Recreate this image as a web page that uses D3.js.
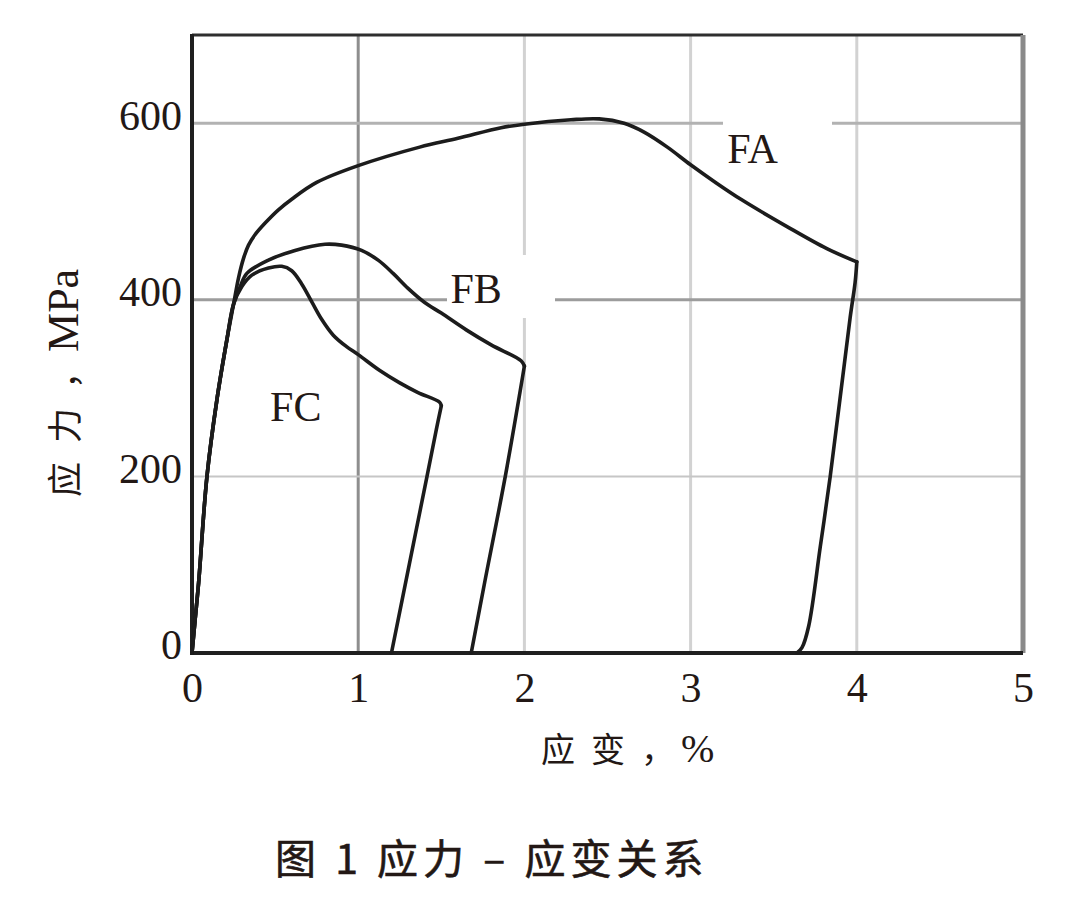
<!DOCTYPE html>
<html>
<head>
  <meta charset="utf-8">
  <title>应力-应变关系</title>
  <style>
    body { margin: 0; background: #fff; }
    svg { display: block; }
  </style>
</head>
<body>
  <script src="https://d3js.org/d3.v7.min.js" charset="utf-8"></script>
  <script>
  'use strict'

  const w = 1080
  const h = 898

  // strain in %, stress in MPa (loading branch, then unloading line)
  const faStrain = [0, 0.02, 0.04, 0.09, 0.15, 0.21, 0.25, 0.28, 0.31, 0.34, 0.38, 0.44, 0.52, 0.6, 0.75, 1.0, 1.37, 1.6, 1.86, 2.0, 2.28, 2.45, 2.6, 2.72, 2.86, 3.0, 3.15, 3.31, 3.58, 3.82, 4.0, 3.99, 3.96, 3.84, 3.78, 3.71, 3.67, 3.64]
  const faStress = [0, 40, 80, 200, 287, 355, 395, 425, 447, 462, 474, 487, 502, 514, 533, 552, 573, 583, 595, 599, 604, 605, 600, 590, 573, 553, 533, 513, 483, 458, 443, 420, 380, 200, 120, 30, 6, 0]

  const fbStrain = [0, 0.02, 0.04, 0.09, 0.15, 0.21, 0.25, 0.29, 0.33, 0.46, 0.62, 0.8, 0.9, 1.02, 1.12, 1.21, 1.3, 1.4, 1.5, 1.65, 1.8, 1.98, 2.0, 1.885, 1.76, 1.68]
  const fbStress = [0, 40, 80, 200, 287, 355, 395, 415, 430, 445, 456, 463, 462, 456, 445, 430, 413, 397, 385, 366, 349, 331, 325, 200, 79, 0]

  const fcStrain = [0, 0.02, 0.04, 0.09, 0.15, 0.21, 0.25, 0.3, 0.36, 0.46, 0.54, 0.6, 0.66, 0.72, 0.78, 0.85, 0.93, 1.0, 1.13, 1.25, 1.36, 1.49, 1.5, 1.47, 1.414, 1.308, 1.2]
  const fcStress = [0, 40, 80, 200, 287, 355, 395, 415, 428, 436, 438, 433, 418, 398, 378, 360, 347, 338, 320, 306, 295, 284, 280, 253, 200, 101, 0]

  const seriesNames = ['FA', 'FB', 'FC']
  const xTicks = [0, 1, 2, 3, 4, 5]
  const yTicks = [0, 200, 400, 600]

  const ink = '#231815'

  const x = d3.scaleLinear().domain([0, 5]).range([192, 1023])
  const y = d3.scaleLinear().domain([0, 700]).range([653, 35])

  const svg = d3.select('body')
    .append('svg')
    .attr('width', w)
    .attr('height', h)

  // grid
  svg.append('g')
    .selectAll('line')
    .data([1, 2, 3, 4])
    .enter()
    .append('line')
    .attr('x1', d => x(d))
    .attr('x2', d => x(d))
    .attr('y1', y(700))
    .attr('y2', y(0))
    .attr('stroke', d => d === 1 ? '#8e8e8e' : '#d2d2d2')
    .attr('stroke-width', 3)

  svg.append('g')
    .selectAll('line')
    .data([200, 400, 600])
    .enter()
    .append('line')
    .attr('x1', x(0))
    .attr('x2', x(5))
    .attr('y1', d => y(d))
    .attr('y2', d => y(d))
    .attr('stroke', d => d === 200 ? '#c6c6c6' : (d === 400 ? '#9c9c9c' : '#b2b2b2'))
    .attr('stroke-width', d => d === 200 ? 2 : 3)

  // white patches behind FA / FB labels (they cut the grid)
  svg.append('rect')
    .attr('x', 723).attr('y', 104)
    .attr('width', 109).attr('height', 68)
    .attr('fill', '#fff')
  svg.append('rect')
    .attr('x', 447).attr('y', 255)
    .attr('width', 108).attr('height', 63)
    .attr('fill', '#fff')

  // frame
  svg.append('line')
    .attr('x1', x(0)).attr('x2', x(5))
    .attr('y1', y(700)).attr('y2', y(700))
    .attr('stroke', '#2e2e2e').attr('stroke-width', 3)
  svg.append('line')
    .attr('x1', x(5)).attr('x2', x(5))
    .attr('y1', y(700)).attr('y2', y(0))
    .attr('stroke', '#8a8a8a').attr('stroke-width', 5)
  svg.append('line')
    .attr('x1', x(0)).attr('x2', x(0))
    .attr('y1', y(700) - 1).attr('y2', y(0) + 2)
    .attr('stroke', '#1f1f1f').attr('stroke-width', 4)
  svg.append('line')
    .attr('x1', x(0) - 2).attr('x2', x(5))
    .attr('y1', y(0)).attr('y2', y(0))
    .attr('stroke', '#1f1f1f').attr('stroke-width', 4)

  // curves
  const series = [
    { name: 'FA', strain: faStrain, stress: faStress },
    { name: 'FB', strain: fbStrain, stress: fbStress },
    { name: 'FC', strain: fcStrain, stress: fcStress }
  ]

  const smooth = d3.line()
    .x(d => x(d[0]))
    .y(d => y(d[1]))
    .curve(d3.curveCatmullRom.alpha(0.5))

  series.forEach(s => {
    const pts = s.strain.map((v, i) => [v, s.stress[i]])
    const k = d3.maxIndex(s.strain)
    // loading branch and unloading branch meet at a sharp corner
    ;[pts.slice(0, k + 1), pts.slice(k)].forEach(part => {
      svg.append('path')
        .attr('d', smooth(part))
        .attr('fill', 'none')
        .attr('stroke', '#1c1c1c')
        .attr('stroke-width', 3.6)
        .attr('stroke-linejoin', 'round')
        .attr('stroke-linecap', 'round')
    })
  })

  // series labels
  const labelPos = { FA: [3.22, 555], FB: [1.555, 397], FC: [0.47, 263] }
  svg.append('g')
    .selectAll('text')
    .data(seriesNames)
    .enter()
    .append('text')
    .text(d => d)
    .attr('x', d => x(labelPos[d][0]))
    .attr('y', d => y(labelPos[d][1]))
    .attr('font-family', 'Liberation Serif, serif')
    .attr('font-size', '42px')
    .attr('fill', ink)

  // axes
  const xAxis = svg.append('g')
    .attr('transform', `translate(0,${y(0)})`)
    .call(d3.axisBottom(x).tickValues(xTicks).tickSize(0).tickPadding(19).tickFormat(d3.format('d')))
  xAxis.select('.domain').remove()
  xAxis.selectAll('text')
    .attr('font-family', 'Liberation Serif, serif')
    .attr('font-size', '42px')
    .attr('fill', ink)

  const yAxis = svg.append('g')
    .attr('transform', `translate(${x(0)},0)`)
    .call(d3.axisLeft(y).tickValues(yTicks).tickSize(0).tickPadding(10).tickFormat(d3.format('d')))
  yAxis.select('.domain').remove()
  yAxis.selectAll('text')
    .attr('font-family', 'Liberation Serif, serif')
    .attr('font-size', '42px')
    .attr('dy', '0.14em')
    .attr('fill', ink)

  // axis titles
  const yTitle = svg.append('text')
    .attr('transform', 'translate(78,497) rotate(-90)')
    .attr('fill', ink)
  yTitle.append('tspan')
    .attr('font-family', 'Noto Sans CJK SC')
    .attr('font-size', '35px')
    .attr('letter-spacing', '19px')
    .text('应力')
  yTitle.append('tspan')
    .attr('font-family', 'Noto Sans CJK SC')
    .attr('font-size', '35px')
    .text('，')
  yTitle.append('tspan')
    .attr('font-family', 'Liberation Serif, serif')
    .attr('font-size', '44px')
    .attr('dx', '2')
    .text('MPa')

  const xTitle = svg.append('text')
    .attr('x', 541)
    .attr('y', 762)
    .attr('fill', ink)
  xTitle.append('tspan')
    .attr('font-family', 'Noto Sans CJK SC')
    .attr('font-size', '34px')
    .attr('letter-spacing', '16px')
    .text('应变')
  xTitle.append('tspan')
    .attr('font-family', 'Noto Sans CJK SC')
    .attr('font-size', '34px')
    .text('，')
  xTitle.append('tspan')
    .attr('font-family', 'Liberation Serif, serif')
    .attr('font-size', '40px')
    .attr('dx', '6')
    .text('%')

  // caption
  svg.append('text')
    .attr('x', 275)
    .attr('y', 874)
    .attr('font-family', 'Noto Sans CJK SC')
    .attr('font-size', '41px')
    .attr('font-weight', 400)
    .attr('letter-spacing', '5px')
    .attr('stroke', ink)
    .attr('stroke-width', 0.6)
    .attr('fill', ink)
    .text('图 1 应力 – 应变关系')

  </script>
</body>
</html>
